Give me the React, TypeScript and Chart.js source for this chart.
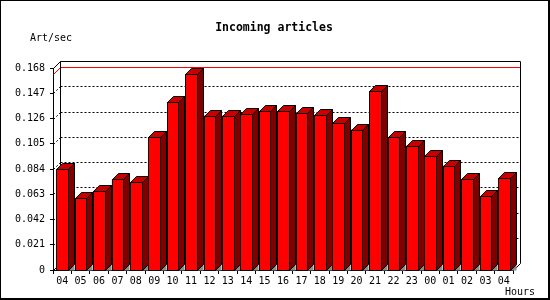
import React, { useEffect, useRef } from "react";
import { Chart, registerables } from "chart.js";

Chart.register(...registerables);

// ---- data ----
const hours = [
  "04", "05", "06", "07", "08", "09", "10", "11", "12", "13", "14", "15", "16",
  "17", "18", "19", "20", "21", "22", "23", "00", "01", "02", "03", "04",
];
const articlesPerSec = [
  0.0844, 0.0595, 0.0656, 0.0753, 0.073, 0.1104, 0.1397, 0.1633, 0.1284, 0.1284,
  0.13, 0.1325, 0.132, 0.1309, 0.1292, 0.1226, 0.1168, 0.1491, 0.1109, 0.1035,
  0.0946, 0.0869, 0.0753, 0.0612, 0.0761,
];
const yTickValues = [0, 0.021, 0.042, 0.063, 0.084, 0.105, 0.126, 0.147, 0.168];
const yTickLabels = ["0", "0.021", "0.042", "0.063", "0.084", "0.105", "0.126", "0.147", "0.168"];
const chartTitle = "Incoming articles";
const yUnit = "Art/sec";
const xUnit = "Hours";

// ---- style ----
const MONO = '"DejaVu Sans Mono", monospace';
const DEPTH = 7;
const BAR_DEPTH = 6;
const FRONT = "#ff0000";
const TOP = "#c80000";
const SIDE = "#800000";
const SHADOW = "#8c8c8c";

function seg(ctx: CanvasRenderingContext2D, x1: number, y1: number, x2: number, y2: number) {
  ctx.beginPath();
  ctx.moveTo(x1, y1);
  ctx.lineTo(x2, y2);
  ctx.stroke();
}

function poly(ctx: CanvasRenderingContext2D, pts: number[][], fill: string) {
  ctx.beginPath();
  pts.forEach(([x, y], i) => (i ? ctx.lineTo(x + 0.5, y + 0.5) : ctx.moveTo(x + 0.5, y + 0.5)));
  ctx.closePath();
  ctx.fillStyle = fill;
  ctx.fill();
  ctx.stroke();
}

function barBoxes(chart: any) {
  const meta = chart.getDatasetMeta(0);
  return meta.data.map((bar: any) => {
    const xl = Math.round(bar.x - bar.width / 2);
    const xr = Math.round(bar.x + bar.width / 2);
    const yt = Math.round(bar.y);
    const yb = Math.round(bar.base);
    return { xl, xr, yt, yb };
  });
}

const mrtg3d = {
  id: "mrtg3d",
  beforeDraw(chart: any) {
    const ctx = chart.ctx as CanvasRenderingContext2D;
    ctx.save();
    ctx.fillStyle = "#ffffff";
    ctx.fillRect(0, 0, chart.width, chart.height);
    ctx.restore();
  },
  beforeDatasetsDraw(chart: any) {
    const ctx = chart.ctx as CanvasRenderingContext2D;
    const ca = chart.chartArea;
    const ys = chart.scales.y;
    const L = Math.round(ca.left);
    const R = Math.round(ca.right);
    const T = Math.round(ca.top);
    const B = Math.round(ca.bottom);
    const d = DEPTH;
    ctx.save();
    ctx.lineWidth = 1;
    ctx.strokeStyle = "#000";
    // dotted back-wall grid
    ctx.setLineDash([2, 2]);
    yTickValues.slice(1, -1).forEach((v) => {
      const yf = Math.round(ys.getPixelForValue(v));
      const yb = yf - d;
      seg(ctx, L + d + 0.5, yb + 0.5, R + d + 0.5, yb + 0.5);
      seg(ctx, L + 0.5, yf + 0.5, L + d + 0.5, yb + 0.5);
    });
    ctx.setLineDash([]);
    // max line (red)
    const maxVal = Math.max(...articlesPerSec);
    const myf = Math.round(ys.getPixelForValue(maxVal));
    ctx.strokeStyle = "#ff0000";
    seg(ctx, L + d + 0.5, myf - d + 0.5, R + d + 0.5, myf - d + 0.5);
    seg(ctx, L + 0.5, myf + 0.5, L + d + 0.5, myf - d + 0.5);
    // box edges
    ctx.strokeStyle = "#000";
    seg(ctx, L + d + 0.5, T - d + 0.5, R + d + 0.5, T - d + 0.5);
    seg(ctx, R + d + 0.5, T - d + 0.5, R + d + 0.5, B - d + 0.5);
    seg(ctx, L + d + 0.5, T - d + 0.5, L + d + 0.5, B - d + 0.5);
    seg(ctx, L + 0.5, T + 0.5, L + d + 0.5, T - d + 0.5);
    seg(ctx, L + 0.5, B + 0.5, L + d + 0.5, B - d + 0.5);
    seg(ctx, R + 0.5, B + 0.5, R + d + 0.5, B - d + 0.5);
    ctx.restore();
  },
  afterDatasetsDraw(chart: any) {
    const ctx = chart.ctx as CanvasRenderingContext2D;
    const b = BAR_DEPTH;
    ctx.save();
    ctx.lineWidth = 1;
    ctx.strokeStyle = "#000";
    ctx.lineJoin = "miter";
    barBoxes(chart).forEach(({ xl, xr, yt, yb }: any) => {
      // floor shadow
      ctx.beginPath();
      ctx.moveTo(xr + 0.5, yb + 0.5);
      ctx.lineTo(xr + b + 0.5, yb - b + 0.5);
      ctx.lineTo(xr + b + 0.5, yb + 0.5);
      ctx.closePath();
      ctx.fillStyle = SHADOW;
      ctx.fill();
      // front
      poly(ctx, [[xl, yt], [xr, yt], [xr, yb], [xl, yb]], FRONT);
      // top
      poly(ctx, [[xl, yt], [xl + b, yt - b], [xr + b, yt - b], [xr, yt]], TOP);
      // side
      poly(ctx, [[xr, yt], [xr + b, yt - b], [xr + b, yb - b], [xr, yb]], SIDE);
    });
    ctx.restore();
  },
  afterDraw(chart: any) {
    const ctx = chart.ctx as CanvasRenderingContext2D;
    const W = chart.width;
    const H = chart.height;
    ctx.save();
    ctx.fillStyle = "#000";
    ctx.textBaseline = "alphabetic";
    ctx.font = `bold 11.5px ${MONO}`;
    ctx.textAlign = "center";
    ctx.fillText(chartTitle, 274, 31);
    ctx.font = `10px ${MONO}`;
    ctx.textAlign = "left";
    ctx.fillText(yUnit, 30, 41);
    ctx.fillText(xUnit, 505, 295);
    // image frame
    ctx.fillRect(0, 0, W, 1);
    ctx.fillRect(0, 0, 1, H);
    ctx.fillRect(W - 2, 0, 2, H);
    ctx.fillRect(0, H - 2, W, 2);
    ctx.restore();
  },
};

export default function App() {
  const canvasRef = useRef<HTMLCanvasElement | null>(null);

  useEffect(() => {
    document.body.style.margin = "0";
    const canvas = canvasRef.current;
    if (!canvas) return;
    const chart = new Chart(canvas, {
      type: "bar",
      data: {
        labels: hours,
        datasets: [
          {
            data: articlesPerSec,
            backgroundColor: FRONT,
            borderColor: "#000",
            borderWidth: 1,
            borderSkipped: false,
            barPercentage: 0.62,
            categoryPercentage: 1,
          },
        ],
      },
      options: {
        animation: false,
        responsive: false,
        devicePixelRatio: 1,
        layout: { padding: { left: 0, top: 68, right: 37, bottom: 0 } },
        plugins: {
          legend: { display: false },
          tooltip: { enabled: false },
          title: { display: false },
        },
        scales: {
          x: {
            offset: true,
            grid: { display: true, drawOnChartArea: false, tickLength: 4, color: "#000", offset: true },
            border: { display: true, color: "#000", width: 1 },
            ticks: {
              color: "#000",
              font: { family: MONO, size: 10 },
              autoSkip: false,
              maxRotation: 0,
              minRotation: 0,
              padding: 1,
            },
            afterFit: (s: any) => {
              s.height = 30;
            },
          },
          y: {
            min: 0,
            max: 0.168,
            grid: { display: true, drawOnChartArea: false, tickLength: 3, color: "#000" },
            border: { display: true, color: "#000", width: 1 },
            ticks: {
              color: "#000",
              font: { family: MONO, size: 10 },
              padding: 5,
              callback: (_v: any, i: number) => yTickLabels[i],
            },
            afterBuildTicks: (axis: any) => {
              axis.ticks = yTickValues.map((value) => ({ value }));
            },
            afterFit: (s: any) => {
              s.width = 53;
            },
          },
        },
      },
      plugins: [mrtg3d],
    } as any);
    return () => chart.destroy();
  }, []);

  return (
    <div style={{ position: "absolute", left: 0, top: 0, width: 550, height: 300 }}>
      <canvas ref={canvasRef} width={550} height={300} style={{ width: 550, height: 300, display: "block" }} />
    </div>
  );
}
